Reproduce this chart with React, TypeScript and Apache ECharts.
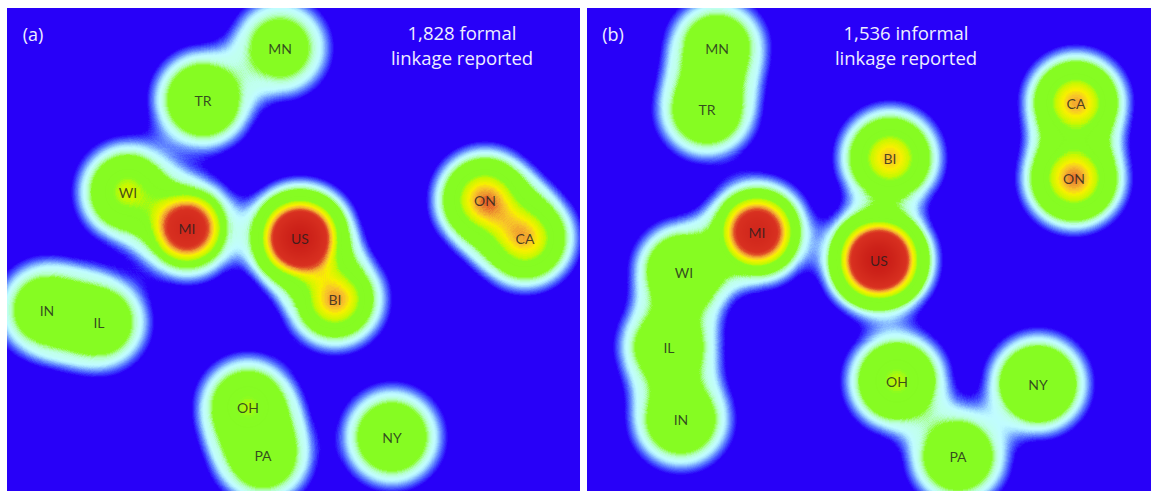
import React, { useEffect, useRef } from 'react';
import * as echarts from 'echarts';

// ---- data (panel-local coordinates, y measured downward) ----
const panelTitles = ['(a)', '(b)'];
const panelNotes = ['1,828 formal\nlinkage reported', '1,536 informal\nlinkage reported'];

const namesA = ['MN', 'TR', 'WI', 'MI', 'US', 'ON', 'CA', 'BI', 'IN', 'IL', 'OH', 'PA', 'NY'];
const xA = [273, 196, 121, 180, 293, 478, 518, 328, 40, 92, 241, 256, 385];
const yA = [40, 92, 184, 220, 230, 192, 230, 291, 302, 314, 399, 447, 429];
const densityA = [0.2, 0.28, 0.3, 0.36, 0.7, 0.4, 0.36, 0.32, 0.24, 0.24, 0.28, 0.24, 0.26];
const hotspotA = [0, 0, 0.28, 0.68, 0.95, 0.42, 0.38, 0.4, 0, 0, 0.25, 0, 0];

const namesB = ['MN', 'TR', 'CA', 'BI', 'ON', 'MI', 'US', 'WI', 'IL', 'OH', 'NY', 'IN', 'PA'];
const xB = [130, 120, 489, 303, 487, 170, 292, 97, 82, 310, 451, 94, 371];
const yB = [40, 101, 95, 150, 170, 224, 252, 264, 339, 373, 376, 411, 448];
const densityB = [0.24, 0.26, 0.4, 0.36, 0.44, 0.46, 0.8, 0.3, 0.26, 0.32, 0.32, 0.26, 0.26];
const hotspotB = [0, 0, 0.39, 0.37, 0.42, 0.72, 1.0, 0, 0, 0.26, 0, 0, 0];

// ---- styling ----
const BLUE = '#2800F8';
const LIME = '#86FC22';
const PANEL_LEFT = [7, 587];
const PANEL_TOP = 8;
const PANEL_W = [573, 564];
const PANEL_H = 483;

const haloStops: [number, string][] = [
  [0, BLUE], [0.07, BLUE], [0.09, '#3A3CFF'], [0.11, '#5878FF'], [0.13, '#80B0FF'],
  [0.15, '#A8E4FF'], [0.17, '#C0FCFF'], [0.2, '#C0FFF0'], [1, '#C0FFE8'],
];
const baseStops: [number, string][] = [
  [0, '#C0FFE8'], [0.045, '#C0FFE8'], [0.058, '#A8FF98'], [0.075, LIME], [1, LIME],
];
const coreStops: [number, string][] = [
  [0, LIME], [0.085, LIME], [0.1, '#C8F800'], [0.125, '#F8F000'], [0.14, '#F8C828'],
  [0.155, '#EE9830'], [0.17, '#E05028'], [0.19, '#D83020'], [0.39, '#C81C16'], [1, '#C01814'],
];

function hexToRgb(h: string) {
  const n = parseInt(h.slice(1), 16);
  return [(n >> 16) & 255, (n >> 8) & 255, n & 255];
}
function buildGradient(stops: [number, string][]) {
  const out: string[] = [];
  for (let i = 0; i < 256; i++) {
    const t = i / 255;
    let k = 0;
    while (k < stops.length - 2 && t > stops[k + 1][0]) k++;
    const [t0, c0] = stops[k];
    const [t1, c1] = stops[k + 1];
    const f = t1 === t0 ? 0 : Math.min(1, Math.max(0, (t - t0) / (t1 - t0)));
    const a = hexToRgb(c0), b = hexToRgb(c1);
    const c = a.map((v, j) => Math.round(v + (b[j] - v) * f));
    out.push(`rgb(${c[0]},${c[1]},${c[2]})`);
  }
  return out;
}

function rectMap(w: number, h: number) {
  return {
    type: 'FeatureCollection',
    features: [{
      type: 'Feature', properties: { name: 'bg' },
      geometry: { type: 'Polygon', coordinates: [[[0, 0], [w, 0], [w, h], [0, h], [0, 0]]] },
    }],
  };
}

export default function App() {
  const ref = useRef<HTMLDivElement>(null);
  useEffect(() => {
    if (!ref.current) return;
    echarts.registerMap('panelA', rectMap(PANEL_W[0], PANEL_H) as any);
    echarts.registerMap('panelB', rectMap(PANEL_W[1], PANEL_H) as any);
    const chart = echarts.init(ref.current, null, { renderer: 'svg' });

    const panels = [
      { names: namesA, xs: xA, ys: yA, dens: densityA, hot: hotspotA },
      { names: namesB, xs: xB, ys: yB, dens: densityB, hot: hotspotB },
    ];
    const series: any[] = [];
    panels.forEach((p, gi) => {
      const densPts = p.names.map((n, i) => [p.xs[i], PANEL_H - p.ys[i], p.dens[i]]);
      // outer glow
      series.push({
        type: 'heatmap', coordinateSystem: 'geo', geoIndex: gi, z: 2,
        pointSize: 40, blurSize: 40, minOpacity: 1, maxOpacity: 1, data: densPts,
      });
      // green body
      series.push({
        type: 'heatmap', coordinateSystem: 'geo', geoIndex: gi, z: 3,
        pointSize: 30, blurSize: 40, minOpacity: -1.5, maxOpacity: 31.8, data: densPts,
      });
      // hot cores
      series.push({
        type: 'heatmap', coordinateSystem: 'geo', geoIndex: gi, z: 4,
        pointSize: 20, blurSize: 40, minOpacity: -2.0, maxOpacity: 31.3,
        data: p.names.map((n, i) => [p.xs[i], PANEL_H - p.ys[i], p.hot[i]]),
      });
    });
    panels.forEach((p, gi) => {
      series.push({
        type: 'scatter', coordinateSystem: 'geo', geoIndex: gi, z: 6, silent: true,
        symbolSize: 1, itemStyle: { color: 'rgba(0,0,0,0)' },
        label: {
          show: true, position: 'inside', formatter: '{b}', color: '#1E1E1E',
          fontSize: 14, fontFamily: 'Lato',
        },
        data: p.names.map((n, i) => ({ name: n, value: [p.xs[i], PANEL_H - p.ys[i]] })),
      });
    });

    const geos = [0, 1].map((gi) => ({
      map: gi === 0 ? 'panelA' : 'panelB',
      left: PANEL_LEFT[gi], top: PANEL_TOP, width: PANEL_W[gi], height: PANEL_H,
      aspectScale: 1, roam: false, silent: true,
      itemStyle: { areaColor: BLUE, borderWidth: 0, borderColor: BLUE },
      emphasis: { disabled: true }, select: { disabled: true },
      label: { show: false },
    }));

    const graphic: any[] = [];
    [0, 1].forEach((gi) => {
      graphic.push({
        type: 'text', x: PANEL_LEFT[gi] + 26, y: 34, z: 10,
        style: { text: panelTitles[gi], fill: '#EEEEFF', fontSize: 18, fontFamily: 'Open Sans', textAlign: 'center', textVerticalAlign: 'middle' },
      });
      graphic.push({
        type: 'text', x: PANEL_LEFT[gi] + (gi === 0 ? 455 : 319), y: 20, z: 10,
        style: { text: panelNotes[gi], fill: '#EEEEFF', fontSize: 18.5, lineHeight: 25, fontFamily: 'Open Sans', textAlign: 'center', textVerticalAlign: 'top' },
      });
    });

    chart.setOption({
      animation: false,
      geo: geos,
      visualMap: [
        { type: 'continuous', show: false, seriesIndex: [0, 3], min: -0.23, max: 0.75, inRange: { color: buildGradient(haloStops) } },
        { type: 'continuous', show: false, seriesIndex: [1, 4], min: 0, max: 1, inRange: { color: buildGradient(baseStops) } },
        { type: 'continuous', show: false, seriesIndex: [2, 5], min: 0, max: 1, inRange: { color: buildGradient(coreStops) } },
      ],
      series,
      graphic,
    });
    return () => chart.dispose();
  }, []);
  return <div ref={ref} style={{ position: 'absolute', left: 0, top: 0, width: 1151, height: 491 }} />;
}
